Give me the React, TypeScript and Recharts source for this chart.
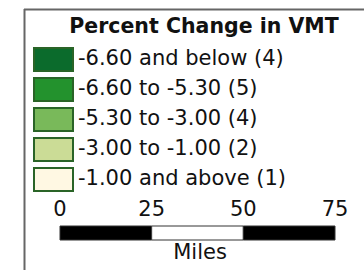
import { BarChart, Bar, XAxis, YAxis } from "recharts";

// classes of the map legend
const classLabels = [
  "-6.60 and below (4)",
  "-6.60 to -5.30 (5)",
  "-5.30 to -3.00 (4)",
  "-3.00 to -1.00 (2)",
  "-1.00 and above (1)",
];
const classColors = ["#0b6b2c", "#23922d", "#79b95a", "#cbdc96", "#fff8e3"];

// scale bar (miles)
const scaleTicks = [0, 25, 50, 75];
const scaleData = [{ name: "Miles", s1: 25, s2: 25, s3: 25 }];
const segmentFills = ["#000000", "#ffffff", "#000000"];

const FONT = "'DejaVu Sans', Verdana, sans-serif";

const LegendBox = () => (
  <g>
    <line x1={24} y1={9.5} x2={364} y2={9.5} stroke="#666" strokeWidth={2} />
    <line x1={24.5} y1={9} x2={24.5} y2={270} stroke="#666" strokeWidth={2} />
    <text x={204} y={33} textAnchor="middle" fontFamily={FONT} fontWeight="bold" fontSize={20.5} fill="#111">
      Percent Change in VMT
    </text>
    {classLabels.map((label, i) => (
      <g key={label}>
        <rect x={34} y={48 + i * 30} width={39} height={23} fill={classColors[i]} stroke="#2a6427" strokeWidth={2} />
        <text x={78} y={65 + i * 30} fontFamily={FONT} fontSize={21} fill="#111">
          {label}
        </text>
      </g>
    ))}
    <text x={200} y={259} textAnchor="middle" fontFamily={FONT} fontSize={21} fill="#111">
      Miles
    </text>
  </g>
);

export default function App() {
  return (
    <div style={{ position: "absolute", left: 0, top: 0, width: 364, height: 270, background: "#fff" }}>
      <BarChart
        width={364}
        height={270}
        layout="vertical"
        data={scaleData}
        margin={{ top: 196, right: 29, bottom: 30, left: 60 }}
        barCategoryGap={0}
      >
        <XAxis
          type="number"
          orientation="top"
          domain={[0, 75]}
          ticks={scaleTicks}
          axisLine={false}
          tickLine={false}
          tickSize={0}
          tickMargin={10}
          height={30}
          tick={{ fontFamily: FONT, fontSize: 21, fill: "#111" }}
        />
        <YAxis type="category" dataKey="name" hide />
        {["s1", "s2", "s3"].map((k, i) => (
          <Bar key={k} dataKey={k} stackId="scale" fill={segmentFills[i]} stroke="#333" strokeWidth={1} isAnimationActive={false} />
        ))}
        <LegendBox />
      </BarChart>
    </div>
  );
}
